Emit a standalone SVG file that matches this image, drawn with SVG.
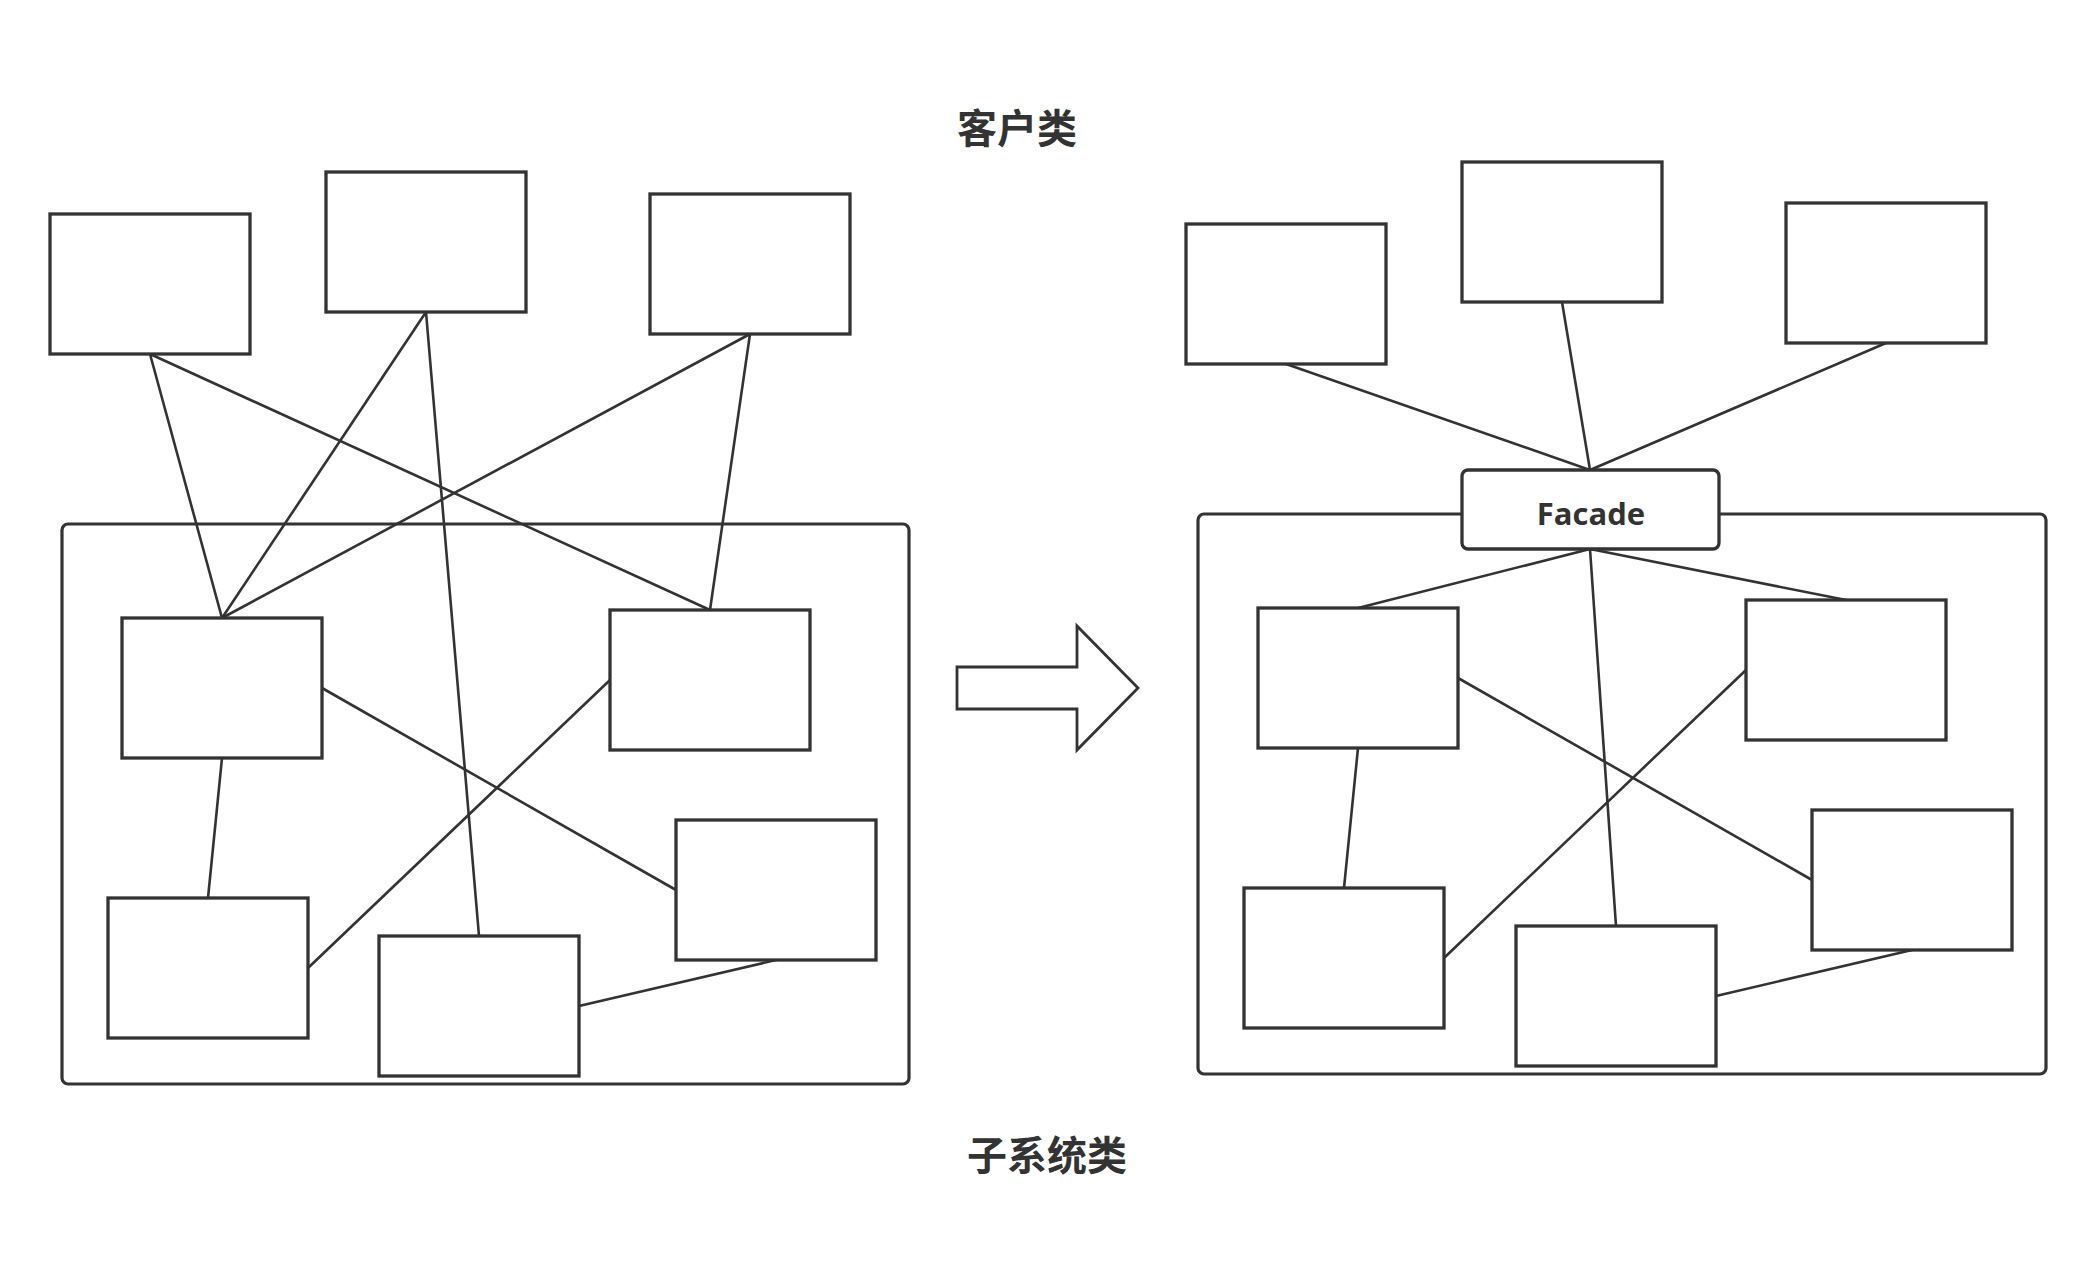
<svg xmlns="http://www.w3.org/2000/svg" width="2096" height="1272" viewBox="0 0 2096 1272">
<style>
.box{fill:#ffffff;stroke:#333333;stroke-width:3.3}
.frame{fill:#ffffff;stroke:#333333;stroke-width:3.2}
.link{stroke:#333333;stroke-width:2.6;fill:none;stroke-linecap:round}
.title{font-family:"Noto Sans CJK SC","Noto Sans",sans-serif;font-weight:bold;font-size:40px;fill:#333333;text-anchor:middle}
.lbl{font-family:"Open Sans","Noto Sans","Liberation Sans",sans-serif;font-weight:bold;font-size:31px;fill:#333333;text-anchor:middle}
</style>
<rect x="0" y="0" width="2096" height="1272" fill="#ffffff"/>

<g id="left-subsystem"><rect class="frame" x="62" y="524" width="847" height="560" rx="6"/></g>
<g id="right-subsystem"><rect class="frame" x="1198" y="514" width="848" height="560" rx="6"/></g>

<g id="connectors">
  <line class="link" x1="150" y1="354" x2="222" y2="618"/>
  <line class="link" x1="150" y1="354" x2="710" y2="610"/>
  <line class="link" x1="426" y1="312" x2="222" y2="618"/>
  <line class="link" x1="426" y1="312" x2="479" y2="936"/>
  <line class="link" x1="750" y1="334" x2="222" y2="618"/>
  <line class="link" x1="750" y1="334" x2="710" y2="610"/>
  <line class="link" x1="322" y1="688" x2="676" y2="890"/>
  <line class="link" x1="610" y1="680" x2="308" y2="968"/>
  <line class="link" x1="222" y1="758" x2="208" y2="898"/>
  <line class="link" x1="579" y1="1006" x2="776" y2="960"/>
  <line class="link" x1="1286" y1="364" x2="1590" y2="470"/>
  <line class="link" x1="1562" y1="302" x2="1590" y2="470"/>
  <line class="link" x1="1886" y1="343" x2="1590" y2="470"/>
  <line class="link" x1="1590" y1="549" x2="1358" y2="608"/>
  <line class="link" x1="1590" y1="549" x2="1846" y2="600"/>
  <line class="link" x1="1590" y1="549" x2="1616" y2="926"/>
  <line class="link" x1="1458" y1="678" x2="1812" y2="880"/>
  <line class="link" x1="1746" y1="670" x2="1444" y2="958"/>
  <line class="link" x1="1358" y1="748" x2="1344" y2="888"/>
  <line class="link" x1="1716" y1="996" x2="1912" y2="950"/>
</g>

<g id="L-client-1"><rect class="box" x="50" y="214" width="200" height="140"/></g>
<g id="L-client-2"><rect class="box" x="326" y="172" width="200" height="140"/></g>
<g id="L-client-3"><rect class="box" x="650" y="194" width="200" height="140"/></g>
<g id="L-sub-1"><rect class="box" x="122" y="618" width="200" height="140"/></g>
<g id="L-sub-2"><rect class="box" x="610" y="610" width="200" height="140"/></g>
<g id="L-sub-3"><rect class="box" x="676" y="820" width="200" height="140"/></g>
<g id="L-sub-4"><rect class="box" x="108" y="898" width="200" height="140"/></g>
<g id="L-sub-5"><rect class="box" x="379" y="936" width="200" height="140"/></g>

<g id="R-client-1"><rect class="box" x="1186" y="224" width="200" height="140"/></g>
<g id="R-client-2"><rect class="box" x="1462" y="162" width="200" height="140"/></g>
<g id="R-client-3"><rect class="box" x="1786" y="203" width="200" height="140"/></g>
<g id="facade">
  <rect class="box" x="1462" y="470" width="257" height="79" rx="6"/>
  <text class="lbl" x="1591" y="525">Facade</text>
</g>
<g id="R-sub-1"><rect class="box" x="1258" y="608" width="200" height="140"/></g>
<g id="R-sub-2"><rect class="box" x="1746" y="600" width="200" height="140"/></g>
<g id="R-sub-3"><rect class="box" x="1812" y="810" width="200" height="140"/></g>
<g id="R-sub-4"><rect class="box" x="1244" y="888" width="200" height="140"/></g>
<g id="R-sub-5"><rect class="box" x="1516" y="926" width="200" height="140"/></g>

<g id="transform-arrow">
  <polygon points="957,667 1077,667 1077,626 1138,688 1077,750 1077,709 957,709" fill="#ffffff" stroke="#333333" stroke-width="2.8" stroke-linejoin="miter"/>
</g>

<g id="label-client"><text class="title" x="1017" y="143">客户类</text></g>
<g id="label-subsystem"><text class="title" x="1047" y="1170">子系统类</text></g>
</svg>
